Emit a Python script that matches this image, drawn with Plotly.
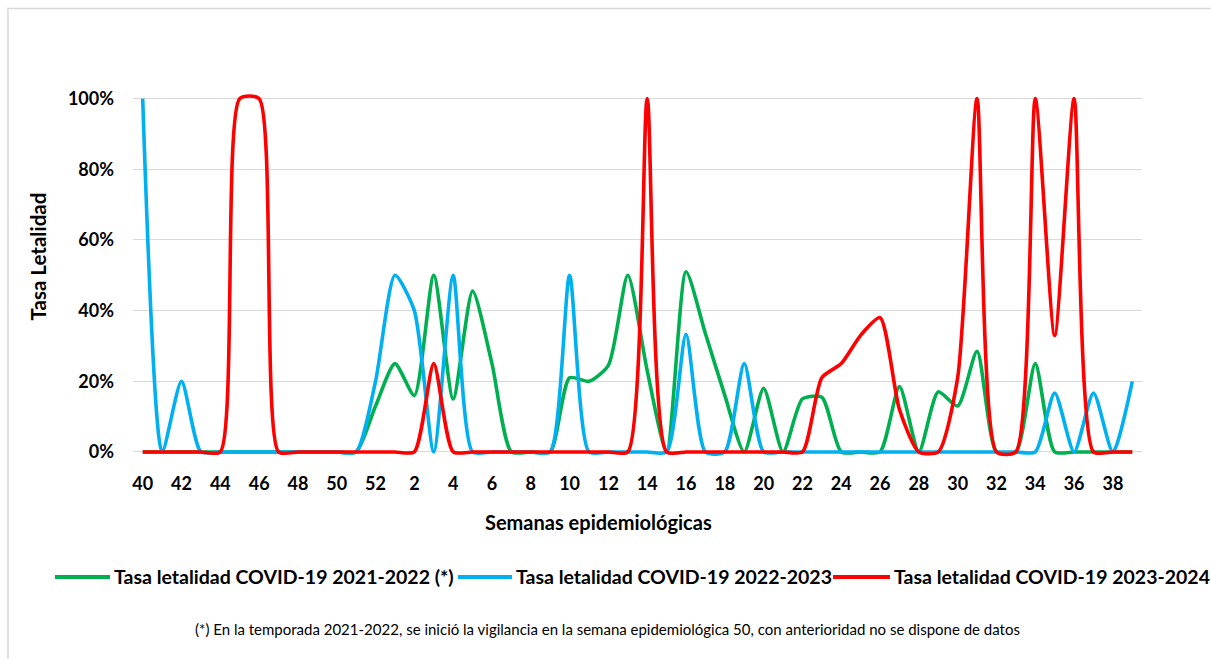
import plotly.graph_objects as go

# Epidemiological weeks of the season (week 40 to week 39 of the next year)
weeks = [str(w) for w in list(range(40, 53)) + list(range(1, 40))]

# Case fatality rate per season (fraction of cases)
tasa_2021_2022 = [0, 0, 0, 0, 0, 0, 0, 0, 0, 0, 0, 0,
                  0.13, 0.25, 0.16, 0.50, 0.15, 0.455, 0.25, 0, 0, 0,
                  0.21, 0.20, 0.245, 0.50, 0.23, 0, 0.51, 0.335, 0.16, 0,
                  0.18, 0, 0.15, 0.155, 0, 0, 0, 0.185, 0, 0.17, 0.13,
                  0.285, 0, 0, 0.25, 0, 0, 0, 0, 0]
tasa_2022_2023 = [1.0, 0, 0.20, 0, 0, 0, 0, 0, 0, 0, 0, 0,
                  0.20, 0.50, 0.40, 0, 0.50, 0, 0, 0, 0, 0,
                  0.50, 0, 0, 0, 0, 0, 0.333, 0, 0, 0.25,
                  0, 0, 0, 0, 0, 0, 0, 0, 0, 0, 0,
                  0, 0, 0, 0, 0.167, 0, 0.167, 0, 0.20]
tasa_2023_2024 = [0, 0, 0, 0, 0, 1.0, 1.0, 0, 0, 0, 0, 0,
                  0, 0, 0, 0.25, 0, 0, 0, 0, 0, 0,
                  0, 0, 0, 0, 1.0, 0, 0, 0, 0, 0,
                  0, 0, 0, 0.21, 0.25, 0.33, 0.38, 0.12, 0, 0, 0.21,
                  1.0, 0, 0, 1.0, 0.33, 1.0, 0, 0, 0]

series_names = ["Tasa letalidad COVID-19 2021-2022 (*)",
                "Tasa letalidad COVID-19 2022-2023",
                "Tasa letalidad COVID-19 2023-2024"]
series_values = [tasa_2021_2022, tasa_2022_2023, tasa_2023_2024]
series_colors = ["#00b050", "#00b0f0", "#ff0000"]

y_ticks = [0, 0.2, 0.4, 0.6, 0.8, 1.0]
y_tick_text = ["0%", "20%", "40%", "60%", "80%", "100%"]

FONT = "Lato"
BLACK = "#000000"

fig = go.Figure()
for name, values, color in zip(series_names, series_values, series_colors):
    fig.add_trace(go.Scatter(
        x=weeks, y=values, name=name, mode="lines",
        line=dict(color=color, width=3.6, shape="spline", smoothing=0.65),
        showlegend=False,
    ))

# Single-row legend below the axis (sample line + label per season)
legend_row_y = -0.318
legend_slots = [(-0.0773, -0.0228), (0.3221, 0.3756), (0.6938, 0.7502)]
legend_shapes = []
legend_labels = []
for (x0, x1), name, color in zip(legend_slots, series_names, series_colors):
    legend_shapes.append(dict(type="line", xref="paper", yref="paper",
                              x0=x0, x1=x1, y0=legend_row_y, y1=legend_row_y,
                              line=dict(color=color, width=4)))
    legend_labels.append(dict(text=name, xref="paper", yref="paper",
                              x=x1 + 0.002, y=legend_row_y,
                              xanchor="left", yanchor="middle", showarrow=False,
                              font=dict(family=FONT, size=19.5, weight=700, color=BLACK)))

fig.update_layout(
    width=1211, height=659,
    margin=dict(l=133, r=69, t=88, b=200),
    paper_bgcolor="white", plot_bgcolor="white",
    font=dict(family=FONT, color=BLACK),
    showlegend=False,
    xaxis=dict(
        type="category", range=[-0.5, 51.5],
        tickmode="array", tickvals=weeks[::2], ticktext=weeks[::2],
        showgrid=False, zeroline=False, showline=False, ticks="",
        tickfont=dict(family=FONT, size=18, weight=700, color=BLACK),
        ticklabelstandoff=12,
    ),
    yaxis=dict(
        range=[-0.02, 1.03],
        tickmode="array", tickvals=y_ticks, ticktext=y_tick_text,
        showgrid=True, gridcolor="#d9d9d9", gridwidth=1.2,
        zeroline=False, showline=False, ticks="",
        tickfont=dict(family=FONT, size=18, weight=700, color=BLACK),
        ticklabelstandoff=18,
    ),
    shapes=[
        # chart frame
        dict(type="rect", xref="paper", yref="paper",
             x0=-0.1239, x1=1.2, y0=-0.7, y1=1.2143,
             line=dict(color="#d9d9d9", width=1.5), layer="below"),
    ] + legend_shapes,
    annotations=[
        # axis titles
        dict(text="Semanas epidemiológicas", xref="paper", yref="paper",
             x=0.4609, y=-0.1698, xanchor="center", yanchor="middle",
             showarrow=False,
             font=dict(family=FONT, size=20, weight=700, color=BLACK)),
        dict(text="Tasa Letalidad", xref="paper", yref="paper",
             x=-0.0942, y=0.5458, xanchor="center", yanchor="middle",
             textangle=-90, showarrow=False,
             font=dict(family=FONT, size=20.5, weight=700, color=BLACK)),
        # footnote
        dict(text="(*) En la temporada 2021-2022, se inició la vigilancia en la semana "
                  "epidemiológica 50, con anterioridad no se dispone de datos",
             xref="paper", yref="paper", x=0.4698, y=-0.4587,
             xanchor="center", yanchor="middle", showarrow=False,
             font=dict(family=FONT, size=15, color=BLACK)),
    ] + legend_labels,
)

fig.write_html("out.html")
